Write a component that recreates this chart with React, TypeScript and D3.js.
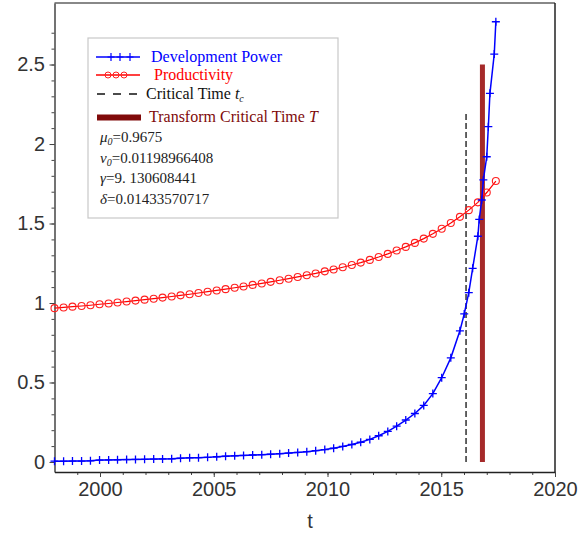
import React, { useEffect, useRef } from 'react';
import * as d3 from 'd3';

// sample times (years) shared by productivity and the first part of development power
const tGrid = [
  1998.00, 1998.40, 1998.79, 1999.19, 1999.58, 1999.98, 2000.38, 2000.77, 2001.17, 2001.56,
  2001.96, 2002.36, 2002.75, 2003.15, 2003.54, 2003.94, 2004.33, 2004.73, 2005.13, 2005.52,
  2005.92, 2006.31, 2006.71, 2007.11, 2007.50, 2007.90, 2008.29, 2008.69, 2009.09, 2009.48,
  2009.88, 2010.27, 2010.67, 2011.07, 2011.46, 2011.86, 2012.25, 2012.65, 2013.04, 2013.44,
  2013.84, 2014.23, 2014.63, 2015.02, 2015.42, 2015.82, 2016.21, 2016.61, 2017.00, 2017.40,
];

const productivity = [
  0.9675, 0.972, 0.977, 0.981, 0.986, 0.992, 0.997, 1.003, 1.009, 1.015,
  1.021, 1.027, 1.034, 1.041, 1.048, 1.055, 1.063, 1.071, 1.079, 1.087,
  1.096, 1.104, 1.114, 1.123, 1.133, 1.143, 1.153, 1.164, 1.175, 1.186,
  1.199, 1.211, 1.225, 1.239, 1.254, 1.271, 1.289, 1.309, 1.330, 1.353,
  1.378, 1.405, 1.435, 1.467, 1.503, 1.542, 1.584, 1.633, 1.695, 1.767,
];

// development power is sampled more densely near the blow-up
const devT = [
  1998.00, 1998.40, 1998.79, 1999.19, 1999.58, 1999.98, 2000.38, 2000.77, 2001.17, 2001.56,
  2001.96, 2002.36, 2002.75, 2003.15, 2003.54, 2003.94, 2004.33, 2004.73, 2005.13, 2005.52,
  2005.92, 2006.31, 2006.71, 2007.11, 2007.50, 2007.90, 2008.29, 2008.69, 2009.09, 2009.48,
  2009.88, 2010.27, 2010.67, 2011.07, 2011.46, 2011.86, 2012.25, 2012.65, 2013.04, 2013.44,
  2013.84, 2014.23, 2014.63, 2015.02, 2015.42, 2015.82, 2016.01, 2016.21, 2016.38, 2016.61,
  2016.67, 2016.78, 2016.85, 2017.00, 2017.07, 2017.14, 2017.33, 2017.40,
];

const devPower = [
  0.005, 0.005, 0.006, 0.006, 0.007, 0.012, 0.013, 0.014, 0.015, 0.016,
  0.017, 0.018, 0.019, 0.020, 0.024, 0.026, 0.027, 0.029, 0.033, 0.036,
  0.039, 0.041, 0.044, 0.046, 0.049, 0.052, 0.056, 0.060, 0.065, 0.071,
  0.078, 0.087, 0.098, 0.110, 0.124, 0.142, 0.165, 0.192, 0.225, 0.264,
  0.305, 0.356, 0.430, 0.530, 0.655, 0.825, 0.931, 1.065, 1.218, 1.420,
  1.526, 1.648, 1.774, 1.920, 2.109, 2.319, 2.566, 2.769,
];

const criticalTime = 2016.09;
const criticalTop = 2.2;
const transformTime = 2016.81;
const transformTop = 2.5;

const yTicks = [0, 0.5, 1, 1.5, 2, 2.5];
const xTicks = [2000, 2005, 2010, 2015, 2020];

const params = [
  { sym: 'μ', value: '=0.9675' },
  { sym: 'ν', value: '=0.01198966408' },
  { sym: 'γ', value: '=9. 130608441' },
  { sym: 'δ', value: '=0.01433570717' },
];

const WIDTH = 584;
const HEIGHT = 533;
const SANS = '"Liberation Sans", Arial, sans-serif';
const SERIF = '"Liberation Serif", "Times New Roman", serif';

export default function App() {
  const svgRef = useRef<SVGSVGElement>(null);

  useEffect(() => {
    if (!svgRef.current) return;
    const svg = d3.select(svgRef.current);
    svg.selectAll('*').remove();

    const left = 54.5, right = 555, top = 3, bottom = 472;

    const x = d3.scaleLinear().domain([1998, 2020]).range([left, right]);
    const y = d3.scaleLinear().domain([-0.063, 2.887]).range([bottom, top]);

    svg.append('rect').attr('width', WIDTH).attr('height', HEIGHT).attr('fill', '#fff');

    // frame (top/right)
    svg.append('line')
      .attr('x1', left).attr('x2', right).attr('y1', top).attr('y2', top)
      .attr('stroke', '#888').attr('stroke-width', 2);
    svg.append('line')
      .attr('x1', right).attr('x2', right).attr('y1', top).attr('y2', bottom)
      .attr('stroke', '#222').attr('stroke-width', 1.5);

    // minor ticks
    svg.append('g')
      .attr('transform', `translate(${left},0)`)
      .call(d3.axisLeft(y).tickValues(d3.range(0, 28).map(i => i / 10)).tickSize(3).tickSizeOuter(0).tickFormat(() => ''))
      .call(g => g.select('.domain').remove())
      .call(g => g.selectAll('line').attr('stroke', '#444'));
    svg.append('g')
      .attr('transform', `translate(0,${bottom})`)
      .call(d3.axisBottom(x).tickValues(d3.range(1999, 2020)).tickSize(3).tickSizeOuter(0).tickFormat(() => ''))
      .call(g => g.select('.domain').remove())
      .call(g => g.selectAll('line').attr('stroke', '#444'));

    // Y axis
    const yAxis = svg.append('g')
      .attr('transform', `translate(${left},0)`)
      .call(d3.axisLeft(y).tickValues(yTicks).tickSize(5).tickSizeOuter(0).tickPadding(4.5).tickFormat(d3.format('~g')));
    yAxis.select('.domain').attr('stroke', '#444').attr('stroke-width', 1.5);
    yAxis.selectAll('line').attr('stroke', '#444');
    yAxis.selectAll('text').attr('font-family', SANS).attr('font-size', 20).attr('fill', '#333');

    // X axis
    const xAxis = svg.append('g')
      .attr('transform', `translate(0,${bottom})`)
      .call(d3.axisBottom(x).tickValues(xTicks).tickSize(5).tickSizeOuter(0).tickPadding(4.5).tickFormat(d3.format('d')));
    xAxis.select('.domain').attr('stroke', '#222').attr('stroke-width', 1.5);
    xAxis.selectAll('line').attr('stroke', '#444');
    xAxis.selectAll('text').attr('font-family', SANS).attr('font-size', 20).attr('fill', '#333');

    svg.append('text')
      .attr('x', 310).attr('y', 528)
      .attr('text-anchor', 'middle')
      .attr('font-family', SANS).attr('font-size', 20).attr('fill', '#333')
      .text('t');

    // Transform critical time T
    svg.append('line')
      .attr('x1', x(transformTime)).attr('x2', x(transformTime))
      .attr('y1', y(0)).attr('y2', y(transformTop))
      .attr('stroke', '#a52a2a').attr('stroke-width', 5);

    // Critical time t_c
    svg.append('line')
      .attr('x1', x(criticalTime)).attr('x2', x(criticalTime))
      .attr('y1', y(0)).attr('y2', y(criticalTop))
      .attr('stroke', '#222').attr('stroke-width', 1.4)
      .attr('stroke-dasharray', '6,3');

    // Productivity
    const prodData = tGrid.map((t, i) => [t, productivity[i]] as [number, number]);
    svg.append('path')
      .datum(prodData)
      .attr('fill', 'none').attr('stroke', '#ff0000').attr('stroke-width', 1.2)
      .attr('d', d3.line<[number, number]>().x(d => x(d[0])).y(d => y(d[1])));
    svg.append('g').selectAll('circle')
      .data(prodData).enter().append('circle')
      .attr('cx', d => x(d[0])).attr('cy', d => y(d[1]))
      .attr('r', 3.5).attr('fill', 'none').attr('stroke', '#ff2020').attr('stroke-width', 1.1);

    // Development power
    const devData = devT.map((t, i) => [t, devPower[i]] as [number, number]);
    svg.append('path')
      .datum(devData)
      .attr('fill', 'none').attr('stroke', '#0000ff').attr('stroke-width', 1.5)
      .attr('d', d3.line<[number, number]>().x(d => x(d[0])).y(d => y(d[1])));
    svg.append('g').selectAll('path')
      .data(devData).enter().append('path')
      .attr('d', d => {
        const cx = x(d[0]), cy = y(d[1]);
        return `M${cx - 4},${cy}h8M${cx},${cy - 4}v8`;
      })
      .attr('stroke', '#0000ff').attr('stroke-width', 1.3);

    // Legend
    const lg = svg.append('g');
    lg.append('rect')
      .attr('x', 88).attr('y', 38).attr('width', 250).attr('height', 180)
      .attr('fill', '#fff').attr('stroke', '#c8c8c8').attr('stroke-width', 1.2);

    const sx0 = 96, sx1 = 140;
    // row 1: development power
    lg.append('line').attr('x1', sx0).attr('x2', sx1).attr('y1', 57).attr('y2', 57)
      .attr('stroke', '#0000ff').attr('stroke-width', 1.5);
    [111, 120, 130].forEach(cx => {
      lg.append('path').attr('d', `M${cx - 3.5},57h7M${cx},53v8`)
        .attr('stroke', '#0000ff').attr('stroke-width', 1.2);
    });
    lg.append('text').attr('x', 151).attr('y', 62)
      .attr('font-family', SERIF).attr('font-size', 16).attr('fill', '#0000ff')
      .text('Development Power');

    // row 2: productivity
    lg.append('line').attr('x1', sx0).attr('x2', sx1).attr('y1', 75).attr('y2', 75)
      .attr('stroke', '#ff0000').attr('stroke-width', 1.5);
    [108, 116, 124].forEach(cx => {
      lg.append('circle').attr('cx', cx).attr('cy', 75).attr('r', 3)
        .attr('fill', 'none').attr('stroke', '#ff2020').attr('stroke-width', 1);
    });
    lg.append('text').attr('x', 154).attr('y', 80)
      .attr('font-family', SERIF).attr('font-size', 16).attr('fill', '#ff0000')
      .text('Productivity');

    // row 3: critical time
    lg.append('line').attr('x1', sx0 + 1).attr('x2', sx1).attr('y1', 94).attr('y2', 94)
      .attr('stroke', '#111').attr('stroke-width', 1.6).attr('stroke-dasharray', '8,8');
    const ct = lg.append('text').attr('x', 146).attr('y', 99)
      .attr('font-family', SERIF).attr('font-size', 16).attr('fill', '#111');
    ct.append('tspan').text('Critical Time ');
    ct.append('tspan').attr('font-style', 'italic').text('t');
    ct.append('tspan').attr('font-style', 'italic').attr('font-size', 10).attr('dy', 3).text('c');

    // row 4: transform critical time
    lg.append('rect').attr('x', 97).attr('y', 114.5).attr('width', 44).attr('height', 6)
      .attr('fill', '#800a0a');
    const tt = lg.append('text').attr('x', 149).attr('y', 122)
      .attr('font-family', SERIF).attr('font-size', 16).attr('fill', '#800a0a');
    tt.append('tspan').text('Transform Critical Time ');
    tt.append('tspan').attr('font-style', 'italic').text('T');

    // parameters
    params.forEach((p, i) => {
      const txt = lg.append('text').attr('x', 100).attr('y', 142 + i * 20.7)
        .attr('font-family', SERIF).attr('font-size', 15).attr('fill', '#222');
      txt.append('tspan').attr('font-style', 'italic').text(p.sym);
      if (i < 2) {
        txt.append('tspan').attr('font-style', 'italic').attr('font-size', 10).attr('dy', 3).text('0');
        txt.append('tspan').attr('dy', -3).text(p.value);
      } else {
        txt.append('tspan').text(p.value);
      }
    });
  }, []);

  return (
    <div style={{ position: 'absolute', left: 0, top: 0, background: '#fff' }}>
      <svg ref={svgRef} width={WIDTH} height={HEIGHT} />
    </div>
  );
}
